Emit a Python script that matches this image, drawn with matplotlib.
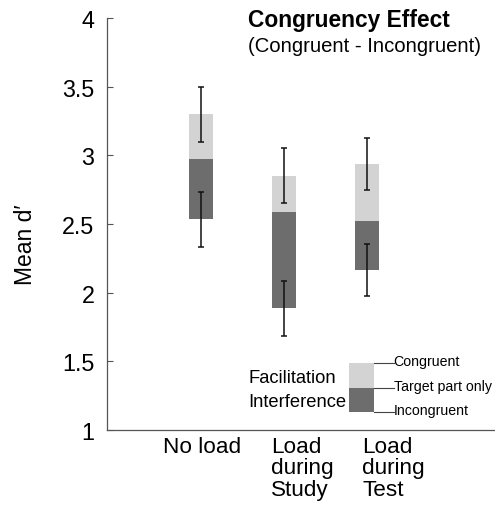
import matplotlib
matplotlib.use("Agg")
import matplotlib.pyplot as plt
import numpy as np

plt.rcParams["font.family"] = ["Liberation Sans", "DejaVu Sans"]

# DATA
CONDITIONS = ["No load", "Load\nduring\nStudy", "Load\nduring\nTest"]
CONGRUENT = [3.30, 2.85, 2.935]
TARGET_ONLY = [2.975, 2.59, 2.52]
INCONGRUENT = [2.535, 1.885, 2.165]
CONGRUENT_ERR = [0.20, 0.20, 0.19]
INCONGRUENT_ERR = [0.20, 0.20, 0.19]

LIGHT = "#d3d3d3"
DARK = "#6d6d6d"
BAR_WIDTH = 0.30


def main():
    fig = plt.figure(figsize=(4.95, 5.10), dpi=100)
    ax = fig.add_axes([107 / 495, 79 / 510, 1 - 107 / 495, (431 - 19) / 510])

    x = np.arange(1, len(CONDITIONS) + 1)
    congruent = np.array(CONGRUENT)
    target = np.array(TARGET_ONLY)
    incongruent = np.array(INCONGRUENT)

    # facilitation: target-only -> congruent, interference: incongruent -> target-only
    ax.bar(x, congruent - target, bottom=target, width=BAR_WIDTH,
           color=LIGHT, edgecolor="none")
    ax.bar(x, target - incongruent, bottom=incongruent, width=BAR_WIDTH,
           color=DARK, edgecolor="none")

    ax.errorbar(x, congruent, yerr=CONGRUENT_ERR, fmt="none",
                ecolor="#111111", elinewidth=1.1, capsize=2.5, capthick=1.1)
    ax.errorbar(x, incongruent, yerr=INCONGRUENT_ERR, fmt="none",
                ecolor="#111111", elinewidth=1.1, capsize=2.5, capthick=1.1)

    ax.set_xlim(-0.1325, 4.542)
    ax.set_ylim(1, 4)
    ax.set_yticks([1, 1.5, 2, 2.5, 3, 3.5, 4])
    ax.set_yticklabels(["1", "1.5", "2", "2.5", "3", "3.5", "4"])
    ax.tick_params(axis="y", direction="in", length=4, width=0.8,
                   labelsize=16.8, pad=9, color="#555555")
    ax.set_xticks([])

    for side in ["top", "right"]:
        ax.spines[side].set_visible(False)
    for side in ["left", "bottom"]:
        ax.spines[side].set_color("#555555")
        ax.spines[side].set_linewidth(0.9)

    # category labels, left aligned under bars
    label_offsets = [-0.46, -0.16, -0.06]
    for xi, label, off in zip(x, CONDITIONS, label_offsets):
        ax.text(xi + off, 0.955, label, ha="left", va="top",
                fontsize=16.2, linespacing=1.02, clip_on=False)

    fig.text(25 / 495, 1 - 245 / 510, "Mean d\u2032", rotation=90,
             ha="center", va="center", fontsize=16.5)

    fig.text(248 / 495, 1 - 20 / 510, "Congruency Effect",
             ha="left", va="center", fontsize=16.4, fontweight="bold")
    fig.text(248 / 495, 1 - 46 / 510, "(Congruent - Incongruent)",
             ha="left", va="center", fontsize=14.6)

    # key
    kx = 2.93
    ax.bar([kx], [1.488 - 1.306], bottom=[1.306], width=BAR_WIDTH,
           color=LIGHT, edgecolor="none")
    ax.bar([kx], [1.306 - 1.131], bottom=[1.131], width=BAR_WIDTH,
           color=DARK, edgecolor="none")
    key_right = kx + BAR_WIDTH / 2
    for yy, txt in [(1.488, "Congruent"), (1.303, "Target part only"),
                    (1.131, "Incongruent")]:
        ax.plot([key_right, key_right + 0.24], [yy, yy], color="#444444",
                lw=0.8)
        ax.text(key_right + 0.24, yy + 0.015, txt, ha="left", va="center",
                fontsize=10.2)
    ax.text(1.57, 1.379, "Facilitation", ha="left", va="center", fontsize=13.2)
    ax.text(1.57, 1.204, "Interference", ha="left", va="center", fontsize=13.2)

    fig.savefig("out.png", dpi=100)
    plt.close(fig)


if __name__ == "__main__":
    main()
